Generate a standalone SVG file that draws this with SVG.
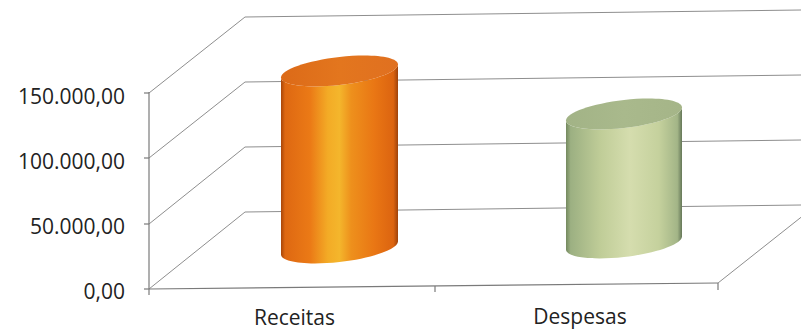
<svg xmlns="http://www.w3.org/2000/svg" width="801" height="331" viewBox="0 0 801 331">
<style>
.grid{stroke:#8e8e8e;stroke-width:1;fill:none}
.axis{stroke:#7a7a7a;stroke-width:1.2;fill:none}
.lbl{font-family:"Open Sans","Liberation Sans",sans-serif;font-size:21px;fill:#222}
</style>
<defs>
<linearGradient id="orBody" x1="0" y1="0" x2="1" y2="0">
<stop offset="0" stop-color="#a8460a"/>
<stop offset="0.035" stop-color="#de6812"/>
<stop offset="0.25" stop-color="#eb7a16"/>
<stop offset="0.4" stop-color="#f3ab26"/>
<stop offset="0.5" stop-color="#f4b62c"/>
<stop offset="0.6" stop-color="#ee901c"/>
<stop offset="0.8" stop-color="#e97614"/>
<stop offset="0.96" stop-color="#dc6410"/>
<stop offset="1" stop-color="#9e420a"/>
</linearGradient>
<linearGradient id="orTop" x1="0" y1="0" x2="1" y2="0">
<stop offset="0" stop-color="#dc6a18"/>
<stop offset="0.5" stop-color="#e3761e"/>
<stop offset="1" stop-color="#e07020"/>
</linearGradient>
<linearGradient id="grBody" x1="0" y1="0" x2="1" y2="0">
<stop offset="0" stop-color="#74895f"/>
<stop offset="0.04" stop-color="#9cb082"/>
<stop offset="0.3" stop-color="#c0cd98"/>
<stop offset="0.55" stop-color="#d5ddae"/>
<stop offset="0.8" stop-color="#c5d19d"/>
<stop offset="0.96" stop-color="#a3b587"/>
<stop offset="1" stop-color="#667859"/>
</linearGradient>
<linearGradient id="grTop" x1="0" y1="0" x2="1" y2="0">
<stop offset="0" stop-color="#a2b386"/>
<stop offset="0.5" stop-color="#a9b98c"/>
<stop offset="1" stop-color="#a5b588"/>
</linearGradient>
</defs>
<rect width="801" height="331" fill="#ffffff"/>
<g id="connectors">
<line class="grid" x1="245" y1="17" x2="801" y2="10"/>
<line class="grid" x1="245" y1="82" x2="801" y2="75"/>
<line class="grid" x1="245" y1="147" x2="801" y2="140"/>
<line class="grid" x1="245" y1="212" x2="801" y2="205"/>
<line class="grid" x1="149" y1="93" x2="245" y2="17"/>
<line class="grid" x1="149" y1="158" x2="245" y2="82"/>
<line class="grid" x1="149" y1="224" x2="245" y2="147"/>
<line class="grid" x1="149" y1="289" x2="245" y2="212"/>
<line class="grid" x1="718" y1="283" x2="814" y2="207"/>
<line class="axis" x1="149" y1="92" x2="149" y2="295"/>
<line class="axis" x1="144" y1="93" x2="149" y2="93"/>
<line class="axis" x1="144" y1="158" x2="149" y2="158"/>
<line class="axis" x1="144" y1="224" x2="149" y2="224"/>
<line class="axis" x1="144" y1="289" x2="149" y2="289"/>
<line class="axis" x1="149" y1="289" x2="718" y2="283"/>
<line class="axis" x1="435" y1="286" x2="435" y2="292"/>
<line class="axis" x1="718" y1="283" x2="718" y2="290"/>
</g>
<g id="receitas">
<path fill="url(#orBody)" d="M281,77.5 L281,254.5 C281,262.23 307.19,265.59 339.5,262 C371.81,258.41 398,249.23 398,241.5 L398,64.5 C398,72.23 371.81,81.41 339.5,85 C307.19,88.59 281,85.23 281,77.5 Z"/>
<path fill="url(#orTop)" d="M281,77.5 C281,69.77 307.19,60.59 339.5,57 C371.81,53.41 398,56.77 398,64.5 C398,72.23 371.81,81.41 339.5,85 C307.19,88.59 281,85.23 281,77.5 Z"/>
</g>
<g id="despesas">
<path fill="url(#grBody)" d="M566,120.5 L566,249.5 C566,257.23 591.97,260.59 624,257 C656.03,253.41 682,244.23 682,236.5 L682,107.5 C682,115.23 656.03,124.41 624,128 C591.97,131.59 566,128.23 566,120.5 Z"/>
<path fill="url(#grTop)" d="M566,120.5 C566,112.77 591.97,103.59 624,100 C656.03,96.41 682,99.77 682,107.5 C682,115.23 656.03,124.41 624,128 C591.97,131.59 566,128.23 566,120.5 Z"/>
</g>
<g id="y-labels" class="lbl" text-anchor="end">
<text x="125" y="103.5">150.000,00</text>
<text x="125" y="168.5">100.000,00</text>
<text x="125" y="234">50.000,00</text>
<text x="125" y="298.5">0,00</text>
</g>
<g id="x-labels" class="lbl" text-anchor="middle">
<text x="294.5" y="324.5">Receitas</text>
<text x="580" y="324">Despesas</text>
</g>
</svg>
